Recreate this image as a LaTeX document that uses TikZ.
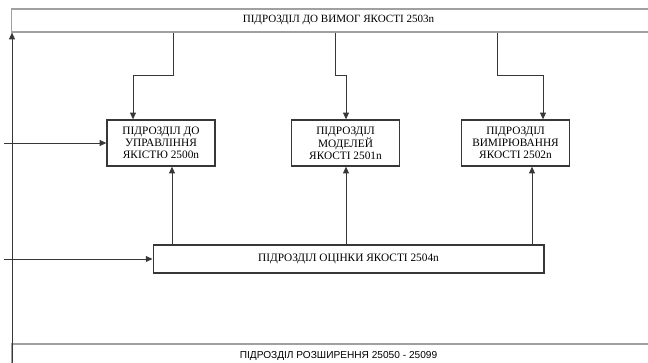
\documentclass[tikz,border=0pt]{standalone}
\usepackage{fontspec}
\setmainfont{Liberation Serif}
\newfontfamily\unitsans{Liberation Sans}
\usepackage{xcolor}
\usetikzlibrary{positioning, arrows.meta, calc}
\definecolor{UnitLine}{RGB}{55,55,55}
\definecolor{FrameGray}{RGB}{160,160,160}

\begin{document}
\begin{tikzpicture}[x=0.75pt, y=-0.75pt,
            unit/.style={rectangle, draw=UnitLine, line width=1pt,
                         minimum width=81pt, minimum height=34.5pt,
                         inner sep=1pt, align=center,
                         font=\fontsize{8.5}{9}\selectfont},
            band/.style={rectangle, draw=FrameGray, line width=0.9pt,
                         minimum width=490pt, minimum height=17.25pt,
                         inner sep=0pt, font=\fontsize{8.3}{9}\selectfont},
            arr/.style={-{Triangle[length=5pt, width=4.4pt]}, line width=0.6pt, UnitLine}
          ]
          \clip (0,0) rectangle (648,363);

          % Frame bands
          \node[band] (req) at (338.5, 20.5) {ПІДРОЗДІЛ ДО ВИМОГ ЯКОСТІ 2503n};
          \node[band, font=\unitsans\fontsize{7.6}{9}\selectfont]
                (ext) at (338.5, 355.5) {ПІДРОЗДІЛ РОЗШИРЕННЯ 25050 - 25099};

          % Quality units
          \node[unit] (mgmt)   at (161, 143)   {ПІДРОЗДІЛ ДО\\УПРАВЛІННЯ\\ЯКІСТЮ 2500n};
          \node[unit] (models) at (345.5, 143) {ПІДРОЗДІЛ\\МОДЕЛЕЙ\\ЯКОСТІ 2501n};
          \node[unit] (meas)   at (515.5, 143) {ПІДРОЗДІЛ\\ВИМІРЮВАННЯ\\ЯКОСТІ 2502n};
          \node[unit, minimum width=293pt, minimum height=21pt]
                (eval) at (348.5, 259) {ПІДРОЗДІЛ ОЦІНКИ ЯКОСТІ 2504n};

          % Left rail
          \coordinate (rail) at (12, 363);
          \coordinate (in1) at (4, 143);
          \coordinate (in2) at (4, 259);
          \draw[arr] (rail) -- (req.south -| rail);
          \draw[arr] (in1) -- (mgmt.west);
          \draw[arr] (in2) -- (eval.west);

          % From requirements down
          \coordinate (d1) at (173, 0);
          \coordinate (d2) at (335, 0);
          \coordinate (d3) at (497, 0);
          \coordinate (e1) at (133, 0);
          \coordinate (e2) at (346, 0);
          \coordinate (e3) at (543, 0);
          \draw[arr] (req.south -| d1) -- ++(0, 43) -| (mgmt.north -| e1);
          \draw[arr] (req.south -| d2) -- ++(0, 43) -| (models.north -| e2);
          \draw[arr] (req.south -| d3) -- ++(0, 43) -| (meas.north -| e3);

          % From evaluation up
          \coordinate (u1) at (172, 0);
          \coordinate (u3) at (532, 0);
          \draw[arr] (eval.north -| u1) -- (mgmt.south -| u1);
          \draw[arr] (eval.north -| e2) -- (models.south -| e2);
          \draw[arr] (eval.north -| u3) -- (meas.south -| u3);
        \end{tikzpicture}
\end{document}
